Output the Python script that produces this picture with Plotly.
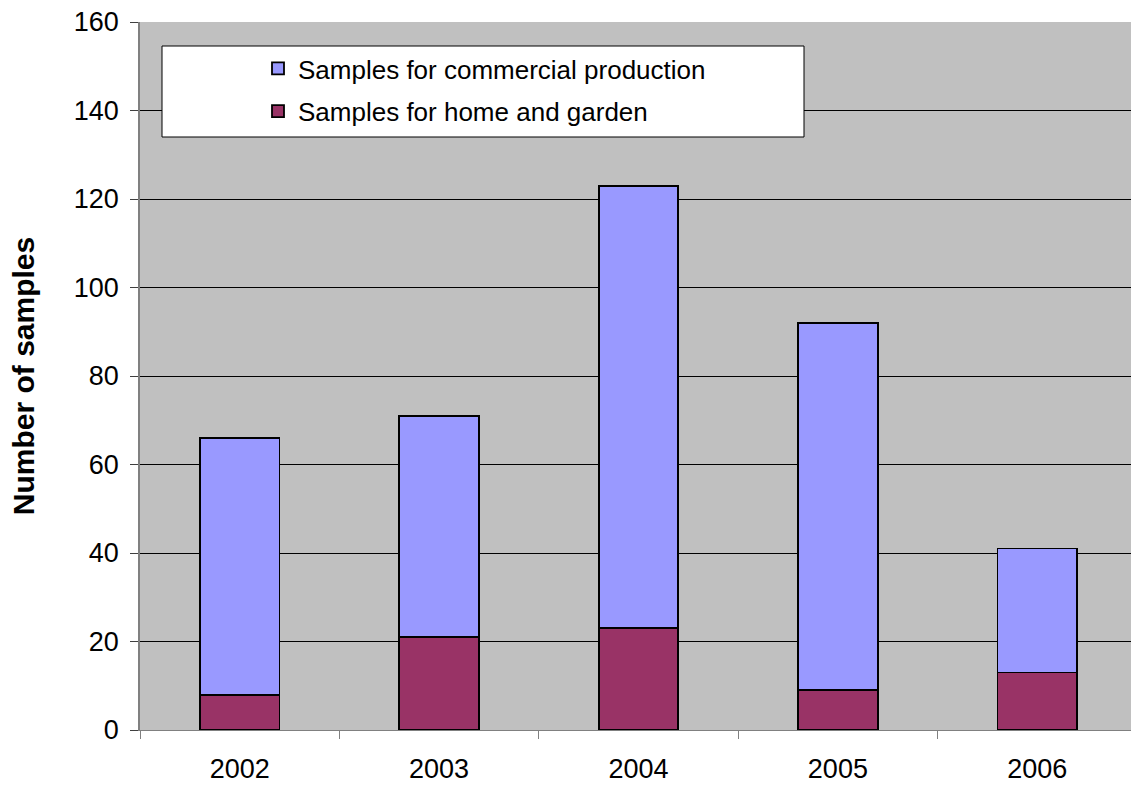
import plotly.graph_objects as go

years = ["2002", "2003", "2004", "2005", "2006"]
home_garden = [8, 21, 23, 9, 13]
commercial = [58, 50, 100, 83, 28]
y_ticks = [0, 20, 40, 60, 80, 100, 120, 140, 160]

FONT = "Liberation Sans, Arial, sans-serif"

fig = go.Figure()
fig.add_trace(go.Bar(
    x=years, y=home_garden, name="Samples for home and garden",
    marker=dict(color="#993366", line=dict(color="black", width=1.8)),
    width=0.4, legendrank=2, legendgroup="b",
))
fig.add_trace(go.Bar(
    x=years, y=commercial, name="Samples for commercial production",
    marker=dict(color="#9999FF", line=dict(color="black", width=1.8)),
    width=0.4, legendrank=1, legendgroup="a",
))

fig.update_layout(
    width=1131, height=786,
    barmode="stack",
    paper_bgcolor="white",
    plot_bgcolor="#C0C0C0",
    margin=dict(l=140, r=0, t=22, b=56, autoexpand=False),
    font=dict(family=FONT, size=27, color="black"),
    showlegend=True,
    legend=dict(
        x=(258 - 140) / 991, y=(730 - 45) / 708,
        xanchor="left", yanchor="top",
        bgcolor="rgba(0,0,0,0)", borderwidth=0,
        font=dict(family=FONT, size=26, color="black"),
        traceorder="grouped", tracegroupgap=6,
    ),
    shapes=[dict(
        type="rect", xref="paper", yref="paper",
        x0=(162 - 140) / 991, x1=(804 - 140) / 991,
        y0=(730 - 137) / 708, y1=(730 - 46) / 708,
        fillcolor="white", line=dict(color="black", width=1), layer="above",
    )],
)

fig.update_xaxes(
    type="category", range=[-0.5, 4.47],
    showgrid=False, showline=True, linecolor="#808080", linewidth=1,
    ticks="outside", tickson="boundaries", ticklen=8, tickcolor="#808080",
    tickfont=dict(family=FONT, size=27), ticklabelstandoff=15,
    zeroline=False,
)
fig.update_yaxes(
    range=[0, 160], tickvals=y_ticks, ticktext=[str(v) for v in y_ticks],
    showgrid=True, gridcolor="black", gridwidth=1,
    showline=True, linecolor="#808080", linewidth=1.5,
    ticks="outside", ticklen=8, tickcolor="#404040",
    tickfont=dict(family=FONT, size=27), ticklabelstandoff=6,
    zeroline=False,
    title=dict(text="<b>Number of samples</b>", font=dict(family=FONT, size=30), standoff=30),
    automargin=False,
)

fig.write_html("out.html")
